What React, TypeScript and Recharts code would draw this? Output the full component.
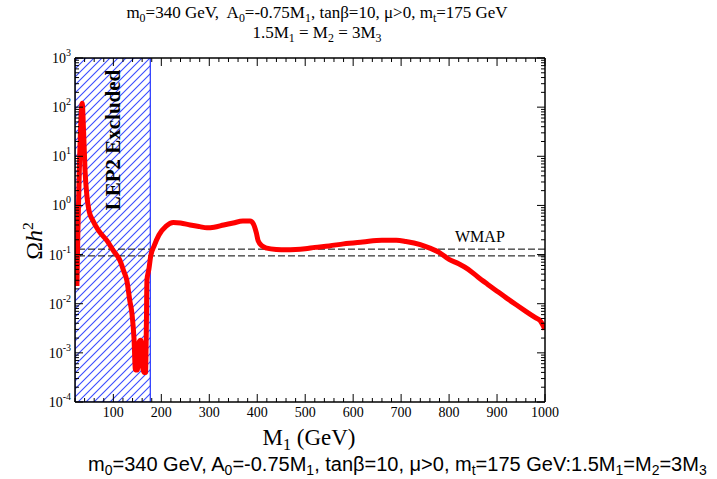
import React from 'react';
import {
    LineChart,
    Line,
    XAxis,
    YAxis,
    ReferenceArea,
    ReferenceLine,
} from 'recharts';

// M1 (GeV) vs relic density
const m1 = [
    24, 26, 29, 33, 35, 38, 41, 45, 49, 57, 70, 87, 100, 114, 122, 128, 134, 139, 143, 146,
    150, 153, 157, 159, 161, 164, 167, 169, 170, 174, 178, 185, 195, 210, 225, 240, 260, 280, 295, 310,
    330, 350, 370, 385, 392, 398, 402, 410, 420, 440, 460, 480, 500, 520, 550, 580, 620, 660, 690, 710,
    740, 760, 780, 800, 820, 840, 860, 880, 900, 920, 940, 960, 980, 990, 1000,
];
const omegaH2 = [
    0.023, 0.3, 5, 80, 120, 30, 5, 1.5, 0.8, 0.5, 0.3, 0.19, 0.12, 0.075, 0.045, 0.03, 0.012, 0.006, 0.002, 0.00045,
    0.00045, 0.0016, 0.0018, 0.0014, 0.0005, 0.0004, 0.0004, 0.005, 0.03, 0.05, 0.095, 0.15, 0.25, 0.38, 0.45, 0.44, 0.4, 0.37, 0.35, 0.36,
    0.4, 0.44, 0.48, 0.48, 0.42, 0.28, 0.19, 0.15, 0.135, 0.127, 0.125, 0.127, 0.132, 0.14, 0.15, 0.165, 0.18, 0.195, 0.195, 0.185,
    0.16, 0.135, 0.11, 0.08, 0.065, 0.05, 0.035, 0.025, 0.018, 0.013, 0.0095, 0.007, 0.0052, 0.0045, 0.003,
];

const wmapBand = [0.094, 0.129];
const lep2Limit = [20, 177];

const xTicks = [
    20, 40, 60, 80, 100, 120, 140, 160, 180, 200, 220, 240, 260, 280, 300, 320, 340, 360, 380, 400,
    420, 440, 460, 480, 500, 520, 540, 560, 580, 600, 620, 640, 660, 680, 700, 720, 740, 760, 780, 800,
    820, 840, 860, 880, 900, 920, 940, 960, 980, 1000,
];
const decades = [-4, -3, -2, -1, 0, 1, 2, 3];
const minorMult = [2, 3, 4, 5, 6, 7, 8, 9];

const yTicks: number[] = [];
decades.forEach((d) => {
    yTicks.push(Math.pow(10, d));
    if (d < 3) minorMult.forEach((m) => yTicks.push(m * Math.pow(10, d)));
});

const chartData = m1.map((x, i) => ({ m1: x, omega: omegaH2[i] }));

const SERIF = '"Liberation Serif", "Times New Roman", serif';
const SANS = '"Liberation Sans", Arial, sans-serif';

const isDecade = (v: number) => {
    const l = Math.log10(v);
    return Math.abs(l - Math.round(l)) < 1e-6;
};

function XTickBottom(props: any) {
    const { x, y, payload } = props;
    const v = payload.value;
    const major = v % 100 === 0;
    return (
        <g>
            <line x1={x} x2={x} y1={y} y2={y - (major ? 8 : 4)} stroke="#000" />
            {major && (
                <text x={x} y={y + 15} textAnchor="middle" fontFamily={SERIF} fontSize={14} fill="#000">
                    {v}
                </text>
            )}
        </g>
    );
}

function XTickTop(props: any) {
    const { x, y, payload } = props;
    const major = payload.value % 100 === 0;
    return <line x1={x} x2={x} y1={y} y2={y + (major ? 8 : 4)} stroke="#000" />;
}

function YTickLeft(props: any) {
    const { x, y, payload } = props;
    const v = payload.value;
    const major = isDecade(v);
    return (
        <g>
            <line x1={x} x2={x + (major ? 8 : 4)} y1={y} y2={y} stroke="#000" />
            {major && (
                <text x={x - 4} y={y + 5} textAnchor="end" fontFamily={SERIF} fontSize={14} fill="#000">
                    10
                    <tspan dy={-7} fontSize={10}>
                        {Math.round(Math.log10(v))}
                    </tspan>
                </text>
            )}
        </g>
    );
}

function YTickRight(props: any) {
    const { x, y, payload } = props;
    const major = isDecade(payload.value);
    return <line x1={x} x2={x - (major ? 8 : 4)} y1={y} y2={y} stroke="#000" />;
}

const subStyle: React.CSSProperties = { fontSize: '0.7em', verticalAlign: '-0.3em', lineHeight: 0 };

export default function App() {
    return (
        <div style={{ position: 'absolute', left: 0, top: 0, width: 717, height: 479, background: '#fff' }}>
            <LineChart
                width={717}
                height={479}
                data={chartData}
                margin={{ top: 57, right: 171, bottom: 47, left: 30 }}
            >
                <defs>
                    <pattern id="lepHatch" width="8" height="8" patternUnits="userSpaceOnUse">
                        <rect width="8" height="8" fill="#ffffff" />
                        <path d="M0,8 L8,0 M-2,2 L2,-2 M6,10 L10,6" stroke="#3a4dff" strokeWidth={1.1} />
                    </pattern>
                </defs>
                <XAxis
                    dataKey="m1"
                    type="number"
                    domain={[20, 1000]}
                    ticks={xTicks}
                    interval={0}
                    height={30}
                    tickSize={0}
                    tickMargin={0}
                    tick={(p: any) => <XTickBottom {...p} />}
                    axisLine={{ stroke: '#000', strokeWidth: 1.5 }}
                    allowDataOverflow
                />
                <XAxis
                    xAxisId="top"
                    dataKey="m1"
                    orientation="top"
                    type="number"
                    domain={[20, 1000]}
                    ticks={xTicks}
                    interval={0}
                    height={1}
                    tickSize={0}
                    tickMargin={0}
                    tick={(p: any) => <XTickTop {...p} />}
                    axisLine={{ stroke: '#000', strokeWidth: 1.5 }}
                    allowDataOverflow
                />
                <YAxis
                    scale="log"
                    type="number"
                    domain={[1e-4, 1e3]}
                    ticks={yTicks}
                    interval={0}
                    width={45}
                    tickSize={0}
                    tickMargin={0}
                    tick={(p: any) => <YTickLeft {...p} />}
                    axisLine={{ stroke: '#000', strokeWidth: 1.5 }}
                    allowDataOverflow
                />
                <YAxis
                    yAxisId="right"
                    orientation="right"
                    scale="log"
                    type="number"
                    domain={[1e-4, 1e3]}
                    ticks={yTicks}
                    interval={0}
                    width={1}
                    tickSize={0}
                    tickMargin={0}
                    tick={(p: any) => <YTickRight {...p} />}
                    axisLine={{ stroke: '#000', strokeWidth: 1.5 }}
                    allowDataOverflow
                />
                <ReferenceArea
                    x1={lep2Limit[0]}
                    x2={lep2Limit[1]}
                    y1={1e-4}
                    y2={1e3}
                    fill="url(#lepHatch)"
                    fillOpacity={1}
                    stroke="#2233ff"
                    strokeWidth={1.2}
                    ifOverflow="hidden"
                />
                {wmapBand.map((v) => (
                    <ReferenceLine
                        key={v}
                        xAxisId="top"
                        yAxisId="right"
                        y={v}
                        stroke="#000"
                        strokeDasharray="7 3"
                        strokeWidth={1}
                    />
                ))}
                <Line
                    type="monotone"
                    dataKey="omega"
                    stroke="#ff0000"
                    strokeWidth={5}
                    dot={false}
                    isAnimationActive={false}
                    strokeLinejoin="round"
                />
                <Line
                    xAxisId="top"
                    yAxisId="right"
                    dataKey="omega"
                    stroke="none"
                    dot={false}
                    activeDot={false}
                    legendType="none"
                    isAnimationActive={false}
                />
            </LineChart>

            <div style={{ position: 'absolute', left: 0, width: 634, top: 3, textAlign: 'center', fontFamily: SERIF, fontSize: 17, lineHeight: '20px', color: '#000' }}>
                <div>
                    m<span style={subStyle}>0</span>=340 GeV,&nbsp; A<span style={subStyle}>0</span>=-0.75M<span style={subStyle}>1</span>, tanβ=10, μ&gt;0, m<span style={subStyle}>t</span>=175 GeV
                </div>
                <div>
                    1.5M<span style={subStyle}>1</span> = M<span style={subStyle}>2</span> = 3M<span style={subStyle}>3</span>
                </div>
            </div>

            <div style={{ position: 'absolute', left: 455, top: 228, fontFamily: SERIF, fontSize: 16, color: '#000' }}>WMAP</div>

            <div
                style={{
                    position: 'absolute', left: 113, top: 140, transform: 'translate(-50%, -50%) rotate(-90deg)',
                    whiteSpace: 'nowrap', fontFamily: SERIF, fontWeight: 'bold', fontSize: 21, color: '#000',
                }}
            >
                LEP2 Excluded
            </div>

            <div
                style={{
                    position: 'absolute', left: 33, top: 241, transform: 'translate(-50%, -50%) rotate(-90deg)',
                    whiteSpace: 'nowrap', fontFamily: SERIF, fontSize: 24, color: '#000',
                }}
            >
                Ω<i>h</i><sup style={{ fontSize: '0.65em' }}>2</sup>
            </div>

            <div style={{ position: 'absolute', left: 0, width: 618, top: 425, textAlign: 'center', fontFamily: SERIF, fontSize: 23, color: '#000' }}>
                M<span style={subStyle}>1</span> (GeV)
            </div>

            <div style={{ position: 'absolute', left: 88, top: 453, whiteSpace: 'nowrap', fontFamily: SANS, fontSize: 20, color: '#000' }}>
                m<span style={subStyle}>0</span>=340 GeV, A<span style={subStyle}>0</span>=-0.75M<span style={subStyle}>1</span>, tanβ=10, μ&gt;0, m<span style={subStyle}>t</span>=175 GeV:1.5M<span style={subStyle}>1</span>=M<span style={subStyle}>2</span>=3M<span style={subStyle}>3</span>
            </div>
        </div>
    );
}
